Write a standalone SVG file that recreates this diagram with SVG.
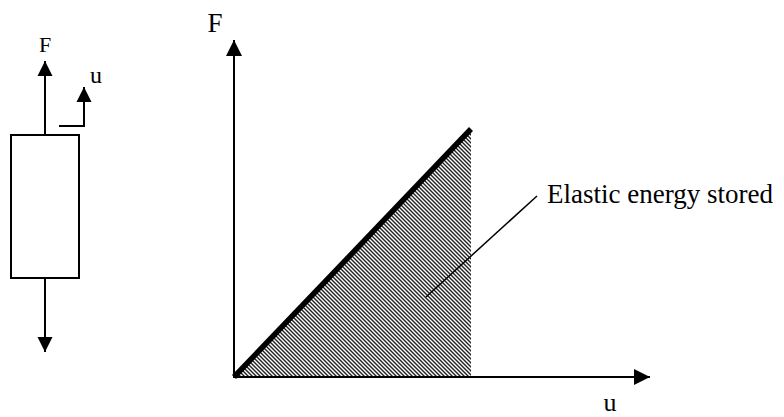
<svg xmlns="http://www.w3.org/2000/svg" width="784" height="417" viewBox="0 0 784 417">
<style>
.ln{stroke:#000;stroke-width:2;fill:none}
.txt{font-family:"Liberation Serif","Times New Roman",serif;fill:#000}
.hl{stroke:#222;stroke-width:1.4}
</style>
<defs>
<marker id="ah" markerUnits="userSpaceOnUse" markerWidth="16" markerHeight="16" refX="16" refY="8" orient="auto">
<path d="M0,0 L16,8 L0,16 z" fill="#000"/>
</marker>
<marker id="ahs" markerUnits="userSpaceOnUse" markerWidth="16" markerHeight="16" refX="15" refY="8" orient="auto">
<path d="M0,0.5 L15,8 L0,15.5 z" fill="#000"/>
</marker>
<pattern id="hatch" patternUnits="userSpaceOnUse" x="0" y="0" width="4" height="4">
<line class="hl" x1="-1" y1="-1" x2="5" y2="5"/>
<line class="hl" x1="-1" y1="3" x2="1" y2="5"/>
<line class="hl" x1="3" y1="-1" x2="5" y2="1"/>
</pattern>
</defs>
<rect width="784" height="417" fill="#fff"/>

<g id="bar">
<rect x="11" y="135" width="68" height="143" fill="#fff" stroke="#000" stroke-width="2"/>
</g>
<g id="force-label"><text class="txt" x="45" y="52" font-size="22" text-anchor="middle">F</text></g>
<g id="disp-label"><text class="txt" x="96" y="83" font-size="24" text-anchor="middle">u</text></g>

<g id="graph-area">
<polygon points="234,377 471,129 471,377" fill="url(#hatch)"/>
<line x1="234" y1="377" x2="471" y2="129" stroke="#000" stroke-width="5.5"/>
</g>
<g id="axis-F-label"><text class="txt" x="215" y="32" font-size="27" text-anchor="middle">F</text></g>
<g id="axis-u-label"><text class="txt" x="610" y="411" font-size="26" text-anchor="middle">u</text></g>
<g id="energy-label"><text class="txt" x="547" y="203" font-size="27">Elastic energy stored</text></g>

<g id="connectors">
<line class="ln" x1="45" y1="135" x2="45" y2="61" marker-end="url(#ahs)"/>
<line class="ln" x1="45" y1="278" x2="45" y2="352" marker-end="url(#ahs)"/>
<polyline class="ln" points="59,126 84,126 84,87" marker-end="url(#ahs)"/>
<line class="ln" x1="234" y1="378" x2="234" y2="40" marker-end="url(#ah)"/>
<line class="ln" x1="233" y1="377" x2="650" y2="377" marker-end="url(#ah)"/>
<line x1="426" y1="297" x2="537" y2="196" stroke="#000" stroke-width="1.5"/>
</g>
</svg>
